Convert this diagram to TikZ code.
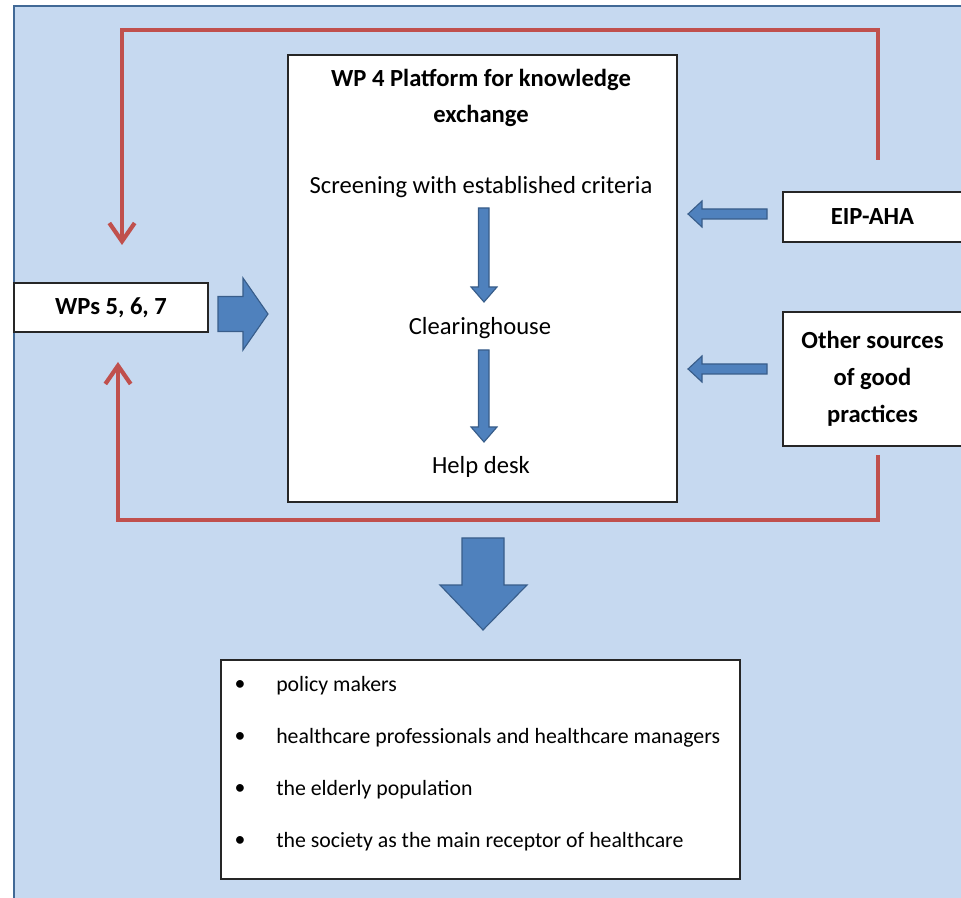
\documentclass[tikz,border=0pt]{standalone}
\usepackage{fontspec}
\setmainfont{Carlito}
\usepackage{tikz}
\usetikzlibrary{arrows.meta}

\definecolor{bgblue}{RGB}{198,217,240}
\definecolor{frameblue}{RGB}{65,105,150}
\definecolor{fbred}{RGB}{192,80,77}
\definecolor{arrowblue}{RGB}{79,129,189}
\definecolor{arrowedge}{RGB}{56,93,138}

\begin{document}
\begin{tikzpicture}[x=0.025cm,y=-0.025cm,
  box/.style={draw=black!85, fill=white, line width=0.9pt, inner sep=0pt},
  big/.style={font=\fontsize{17.5}{25.5}\selectfont},
  small/.style={font=\fontsize{15.5}{20}\selectfont},
  feedback/.style={draw=fbred, line width=3pt, -{Straight Barb[length=13pt,width=18pt,line width=3pt]}},
  blockarrow/.style={fill=arrowblue, draw=arrowedge, line width=0.8pt, line join=miter}]
\useasboundingbox (0,0) rectangle (961,898);
\fill[white] (0,0) rectangle (961,898);
\draw[fill=bgblue, draw=frameblue, line width=2pt] (14,6) rectangle (975,915);

% main platform box
\node[box, minimum width=9.725cm, minimum height=11.175cm] (wp4) at (482.5,278.5) {};
\node[big, align=center, font=\fontsize{17.5}{25.5}\selectfont\bfseries] (title) at (481,98) {WP 4 Platform for knowledge\\exchange};
\node[big] (screen) at (481,187) {Screening with established criteria};
\node[big] (clear) at (480,328) {Clearinghouse};
\node[big] (help) at (481,467) {Help desk};

% side boxes
\node[box, big, font=\fontsize{17.5}{25.5}\selectfont\bfseries, minimum width=4.85cm, minimum height=1.225cm] (wps) at (111,307.5) {WPs 5, 6, 7};
\node[box, big, font=\fontsize{17.5}{25.5}\selectfont\bfseries, minimum width=4.475cm, minimum height=1.25cm] (eip) at (872.5,217) {EIP-AHA};
\node[box, big, font=\fontsize{17.5}{26.5}\selectfont\bfseries, align=center, minimum width=4.475cm, minimum height=3.35cm] (other) at (872.5,379) {Other sources\\of good\\practices};

% target groups
\node[box, minimum width=12.975cm, minimum height=5.475cm] (target) at (480.5,769.5) {};
\foreach \t [count=\i] in {policy makers, healthcare professionals and healthcare managers, the elderly population, the society as the main receptor of healthcare}{
  \node[small] (bul\i) at (240,634+52*\i) {\textbullet};
  \node[small, anchor=west, inner sep=0pt] (item\i) at (276,634+52*\i) {\t};
}

% feedback loops
\coordinate (topstart) at (878,160);
\coordinate (topend) at (122,245);
\coordinate (botstart) at (878,455);
\coordinate (botend) at (118,362);
\draw[feedback] (topstart) -- (878,30) -- (122,30) -- (topend);
\draw[feedback] (botstart) -- (878,520) -- (118,520) -- (botend);

% block arrows
\draw[blockarrow] (218,296.5) -- (243,296.5) -- (243,278) -- (268,314) -- (243,350) -- (243,331.5) -- (218,331.5) -- cycle;
\foreach \yc in {214,369}
  \draw[blockarrow] (767,\yc-5) -- (702,\yc-5) -- (702,\yc-13) -- (688,\yc) -- (702,\yc+13) -- (702,\yc+5) -- (767,\yc+5) -- cycle;
\draw[blockarrow] (478.5,208) -- (489,208) -- (489,287) -- (497,287) -- (484,302) -- (471,287) -- (478.5,287) -- cycle;
\draw[blockarrow] (478.5,350) -- (489,350) -- (489,427) -- (497,427) -- (484,442) -- (471,427) -- (478.5,427) -- cycle;
\draw[blockarrow] (462,538) -- (504,538) -- (504,585) -- (527,585) -- (483,630) -- (440,585) -- (462,585) -- cycle;
\end{tikzpicture}
\end{document}
